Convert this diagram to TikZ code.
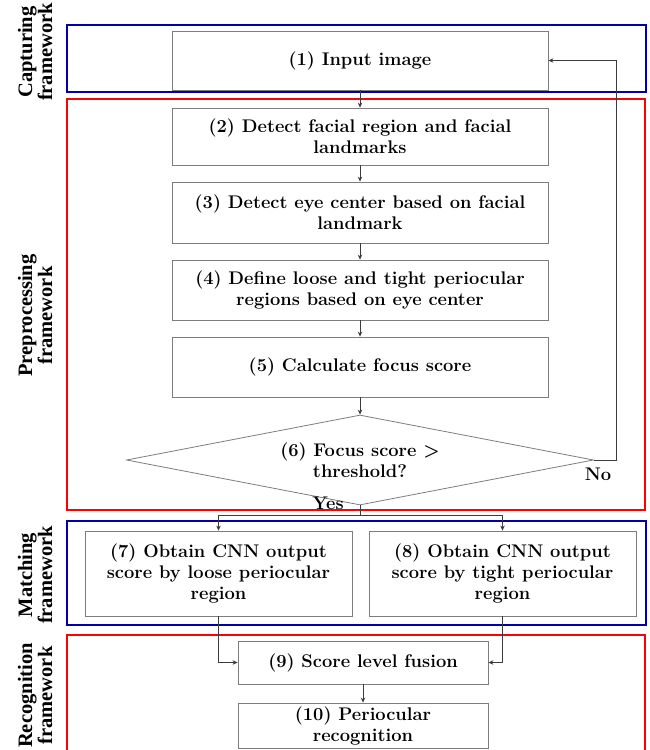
\documentclass[tikz,border=0pt]{standalone}
\usepackage{fontspec}
\setmainfont{Latin Modern Roman}
\newfontfamily\sidefont{Liberation Serif}
\usetikzlibrary{arrows.meta,shapes.geometric}
\definecolor{frameblue}{RGB}{0,0,165}
\definecolor{framered}{RGB}{255,0,0}
\definecolor{boxgray}{RGB}{125,125,125}
\definecolor{lineg}{RGB}{60,60,60}
\begin{document}
\begin{tikzpicture}[x=1pt,y=-1pt,
  font=\fontsize{18.3}{21}\selectfont\bfseries,
  stepbox/.style={draw=boxgray, line width=0.8pt, align=center, inner sep=0pt},
  decision/.style={draw=boxgray, line width=0.8pt, align=center, diamond, aspect=5.2, inner sep=0pt, minimum width=467pt, minimum height=90pt},
  frameB/.style={draw=frameblue, line width=2.4pt},
  frameR/.style={draw=framered, line width=2.4pt},
  conn/.style={draw=lineg, line width=0.8pt},
  arr/.style={conn, -{Stealth[length=5pt,width=4.5pt]}},
  side/.style={rotate=90, align=center, font=\sidefont\fontsize{20.5}{20}\selectfont\bfseries}]
\useasboundingbox (0,0) rectangle (650,750);
\clip (0,0) rectangle (650,750);

% frames
\draw[frameB] (67,25) rectangle (646,92);
\draw[frameR] (67,99) rectangle (645,510);
\draw[frameB] (67,521) rectangle (646,625);
\draw[frameR] (67,635) rectangle (645,756);

% side labels
\node[side] (lc) at (35,52) {Capturing\\framework};
\node[side] (lp) at (35,315.5) {Preprocessing\\framework};
\node[side] (lm) at (35,575) {Matching\\framework};
\node[side] (lr) at (35,695.5) {Recognition\\framework};

% steps
\node[stepbox, minimum width=376pt, minimum height=59pt] (b1) at (360,60.5) {(1) Input image};
\node[stepbox, minimum width=376pt, minimum height=57pt] (b2) at (360,136.5) {(2) Detect facial region and facial\\landmarks};
\node[stepbox, minimum width=376pt, minimum height=61pt] (b3) at (360,212.5) {(3) Detect eye center based on facial\\landmark};
\node[stepbox, minimum width=376pt, minimum height=60pt] (b4) at (360,290) {(4) Define loose and tight periocular\\regions based on eye center};
\node[stepbox, minimum width=376pt, minimum height=60pt] (b5) at (360,367) {(5) Calculate focus score};
\node[decision] (dia) at (360,460) {(6) Focus score \textgreater\\threshold?};
\node[stepbox, minimum width=267pt, minimum height=85pt] (b7) at (218.5,573.5) {(7) Obtain CNN output\\score by loose periocular\\region};
\node[stepbox, minimum width=267pt, minimum height=85pt] (b8) at (502.5,573.5) {(8) Obtain CNN output\\score by tight periocular\\region};
\node[stepbox, minimum width=250pt, minimum height=43pt] (b9) at (363,662.5) {(9) Score level fusion};
\node[stepbox, minimum width=250pt, minimum height=45pt] (b10) at (363,725.5) {(10) Periocular\\recognition};

% connectors
\draw[arr] (b1) -- (b2);
\draw[arr] (b2) -- (b3);
\draw[arr] (b3) -- (b4);
\draw[arr] (b4) -- (b5);
\draw[arr] (b5) -- (dia.north);
\coordinate (fb) at (616,460);
\draw[arr] (dia.east) -- (fb) |- (b1.east);
\node (no) at (598,474) {No};
\coordinate (split) at (360,515);
\draw[conn] (dia.south) -- (split);
\node (yes) at (328,503) {Yes};
\draw[arr] (split) -| (b7.north);
\draw[arr] (split) -| (b8.north);
\draw[arr] (b7.south) |- (b9.west);
\draw[arr] (b8.south) |- (b9.east);
\draw[arr] (b9) -- (b10);
\end{tikzpicture}
\end{document}
